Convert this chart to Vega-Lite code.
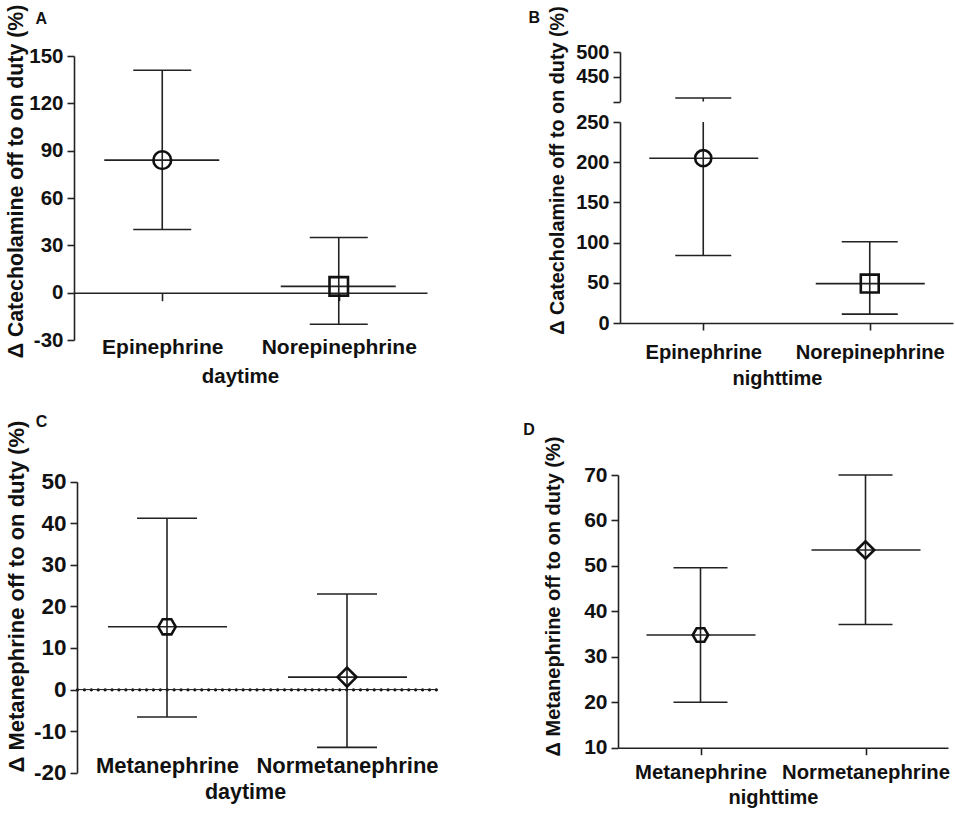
{
  "$schema": "https://vega.github.io/schema/vega-lite/v6.json",
  "width": 955,
  "height": 814,
  "autosize": "none",
  "padding": 0,
  "background": "white",
  "config": {
    "view": {"stroke": null},
    "font": "Liberation Sans",
    "rule": {"color": "#222", "strokeWidth": 1.6},
    "point": {"filled": false, "strokeWidth": 2.6, "color": "#111", "opacity": 1},
    "text": {"fontSize": 16, "fontWeight": "bold", "font": "Liberation Sans", "color": "#111", "baseline": "middle", "align": "center"},
    "axis": {
      "grid": false,
      "labelFont": "Liberation Sans",
      "labelFontWeight": "bold",
      "labelFontSize": 20,
      "labelColor": "#111",
      "labelOverlap": false,
      "labelFlush": false,
      "labelBound": false,
      "labelLimit": 400,
      "labelAngle": 0,
      "titleFont": "Liberation Sans",
      "titleFontWeight": "bold",
      "titleFontSize": 20.5,
      "titleColor": "#111",
      "titleLimit": 600,
      "domainColor": "#222",
      "domainWidth": 1.6,
      "tickColor": "#222",
      "tickWidth": 1.6,
      "tickSize": 7
    },
    "axisY": {"labelExpr": "'' + datum.value"}
  },
  "datasets": {
    "A": [
      {"cat": "Epinephrine", "mean": 84, "lower": 40, "upper": 141},
      {"cat": "Norepinephrine", "mean": 4, "lower": -20, "upper": 35}
    ],
    "B": [
      {"cat": "Epinephrine", "mean": 205, "lower": 84, "upper": 407},
      {"cat": "Norepinephrine", "mean": 49, "lower": 11, "upper": 101}
    ],
    "C": [
      {"cat": "Metanephrine", "mean": 15.1, "lower": -6.6, "upper": 41.2},
      {"cat": "Normetanephrine", "mean": 3, "lower": -13.9, "upper": 23}
    ],
    "D": [
      {"cat": "Metanephrine", "mean": 34.8, "lower": 20, "upper": 49.6},
      {"cat": "Normetanephrine", "mean": 53.5, "lower": 37.1, "upper": 70}
    ]
  },
  "layer": [
    {
      "data": {"name": "A"},
      "layer": [
        {
          "mark": {"type": "rule"},
          "encoding": {
            "x": {"field": "cat", "type": "nominal",
              "scale": {"type": "point", "domain": ["Epinephrine", "Norepinephrine"], "range": [74, 427], "padding": 0.5},
              "axis": {"orient": "bottom", "offset": -521.3, "title": "daytime", "titleX": 240, "labelPadding": 36, "tickSize": 8, "titlePadding": 9, "labelFontSize": 21, "titleFontSize": 20.5}},
            "y": {"field": "lower", "type": "quantitative",
              "scale": {"domain": [-30, 150], "range": [340, 56], "nice": false, "zero": false},
              "axis": {"orient": "left", "offset": -74, "values": [-30, 0, 30, 60, 90, 120, 150], "title": "Δ Catecholamine off to on duty (%)", "titleY": 181, "titlePadding": 2, "labelPadding": 4, "labelFontSize": 20.5, "titleFontSize": 21.3}},
            "y2": {"field": "upper"}
          }
        },
        {
          "mark": {"type": "rule", "xOffset": -29, "x2Offset": 29},
          "encoding": {"x": {"field": "cat", "type": "nominal"}, "x2": {"field": "cat"}, "y": {"field": "upper", "type": "quantitative"}}
        },
        {
          "mark": {"type": "rule", "xOffset": -29, "x2Offset": 29},
          "encoding": {"x": {"field": "cat", "type": "nominal"}, "x2": {"field": "cat"}, "y": {"field": "lower", "type": "quantitative"}}
        },
        {
          "mark": {"type": "rule", "xOffset": -58, "x2Offset": 57},
          "encoding": {"x": {"field": "cat", "type": "nominal"}, "x2": {"field": "cat"}, "y": {"field": "mean", "type": "quantitative"}}
        },
        {
          "mark": {"type": "point"},
          "encoding": {
            "x": {"field": "cat", "type": "nominal"},
            "y": {"field": "mean", "type": "quantitative"},
            "shape": {"field": "cat", "type": "nominal", "scale": {"domain": ["Epinephrine", "Norepinephrine"], "range": ["circle", "square"]}, "legend": null},
            "size": {"field": "cat", "type": "nominal", "scale": {"domain": ["Epinephrine", "Norepinephrine"], "range": [314, 342]}, "legend": null}
          }
        },
        {
          "data": {"values": [{"letter": "A"}]},
          "mark": {"type": "text", "dx": -121},
          "encoding": {"x": {"datum": "Epinephrine", "type": "nominal"}, "y": {"datum": 173.4, "type": "quantitative"}, "text": {"field": "letter"}}
        }
      ]
    },
    {
      "data": {"name": "B"},
      "layer": [
        {
          "mark": {"type": "rule"},
          "encoding": {
            "x": {"field": "cat", "type": "nominal",
              "scale": {"type": "point", "domain": ["Epinephrine", "Norepinephrine"], "range": [620, 953], "padding": 0.5},
              "axis": {"orient": "bottom", "offset": -491, "title": "nighttime", "titleX": 777, "labelPadding": 12, "tickSize": 7, "titlePadding": 6, "labelFontSize": 20.2, "titleFontSize": 20}},
            "y": {"field": "lower", "type": "quantitative",
              "scale": {"domain": [0, 250], "range": [323, 122], "nice": false, "zero": false, "clamp": true},
              "axis": {"orient": "left", "offset": -620, "values": [0, 50, 100, 150, 200, 250], "title": "Δ Catecholamine off to on duty (%)", "titleY": 170, "titlePadding": 8, "labelPadding": 4, "labelFontSize": 20, "titleFontSize": 19.8}},
            "y2": {"field": "upper"}
          }
        },
        {
          "transform": [{"filter": "datum.upper <= 250"}],
          "mark": {"type": "rule", "xOffset": -28, "x2Offset": 28},
          "encoding": {"x": {"field": "cat", "type": "nominal"}, "x2": {"field": "cat"}, "y": {"field": "upper", "type": "quantitative"}}
        },
        {
          "mark": {"type": "rule", "xOffset": -28, "x2Offset": 28},
          "encoding": {"x": {"field": "cat", "type": "nominal"}, "x2": {"field": "cat"}, "y": {"field": "lower", "type": "quantitative"}}
        },
        {
          "mark": {"type": "rule", "xOffset": -54, "x2Offset": 55},
          "encoding": {"x": {"field": "cat", "type": "nominal"}, "x2": {"field": "cat"}, "y": {"field": "mean", "type": "quantitative"}}
        },
        {
          "mark": {"type": "point"},
          "encoding": {
            "x": {"field": "cat", "type": "nominal"},
            "y": {"field": "mean", "type": "quantitative"},
            "shape": {"field": "cat", "type": "nominal", "scale": {"domain": ["Epinephrine", "Norepinephrine"], "range": ["circle", "square"]}, "legend": null},
            "size": {"field": "cat", "type": "nominal", "scale": {"domain": ["Epinephrine", "Norepinephrine"], "range": [260, 320]}, "legend": null}
          }
        }
      ]
    },
    {
      "data": {"name": "B"},
      "layer": [
        {
          "transform": [{"filter": "datum.upper > 250"}],
          "mark": {"type": "rule"},
          "encoding": {
            "x": {"field": "cat", "type": "nominal",
              "scale": {"type": "point", "domain": ["Epinephrine", "Norepinephrine"], "range": [620, 953], "padding": 0.5},
              "axis": null},
            "y": {"field": "upper", "type": "quantitative",
              "scale": {"domain": [400, 500], "range": [101.5, 52], "nice": false, "zero": false},
              "axis": {"orient": "left", "offset": -620, "values": [400, 450, 500], "labelExpr": "datum.value == 400 ? '' : datum.label", "title": null, "labelPadding": 4, "labelFontSize": 20}},
            "y2": {"datum": 400}
          }
        },
        {
          "transform": [{"filter": "datum.upper > 250"}],
          "mark": {"type": "rule", "xOffset": -28, "x2Offset": 28},
          "encoding": {"x": {"field": "cat", "type": "nominal"}, "x2": {"field": "cat"}, "y": {"field": "upper", "type": "quantitative"}}
        },
        {
          "data": {"values": [{"letter": "B"}]},
          "mark": {"type": "text", "dx": -169},
          "encoding": {"x": {"datum": "Epinephrine", "type": "nominal"}, "y": {"datum": 567.7, "type": "quantitative"}, "text": {"field": "letter"}}
        }
      ]
    },
    {
      "data": {"name": "C"},
      "layer": [
        {
          "mark": {"type": "rule"},
          "encoding": {
            "x": {"field": "cat", "type": "nominal",
              "scale": {"type": "point", "domain": ["Metanephrine", "Normetanephrine"], "range": [77, 437], "padding": 0.5},
              "axis": {"orient": "bottom", "offset": -124.7, "title": "daytime", "titleX": 245, "ticks": false, "tickSize": 0, "labelPadding": 66, "titlePadding": 5, "labelFontSize": 22, "titleFontSize": 21.5, "domainDash": [0.1, 6.8], "domainWidth": 3.2, "domainCap": "round", "domainColor": "#111"}},
            "y": {"field": "lower", "type": "quantitative",
              "scale": {"domain": [-20, 50], "range": [772.7, 481.7], "nice": false, "zero": false},
              "axis": {"orient": "left", "offset": -77, "values": [-20, -10, 0, 10, 20, 30, 40, 50], "title": "Δ Metanephrine off to on duty (%)", "titleY": 596, "titlePadding": 5, "labelPadding": 4, "labelFontSize": 22.5, "titleFontSize": 22}},
            "y2": {"field": "upper"}
          }
        },
        {
          "mark": {"type": "rule", "strokeWidth": 0.9, "xOffset": -90, "x2Offset": 90},
          "encoding": {"x": {"datum": "Metanephrine", "type": "nominal"}, "x2": {"datum": "Normetanephrine"}, "y": {"datum": 0, "type": "quantitative"}}
        },
        {
          "mark": {"type": "rule", "xOffset": -30, "x2Offset": 30},
          "encoding": {"x": {"field": "cat", "type": "nominal"}, "x2": {"field": "cat"}, "y": {"field": "upper", "type": "quantitative"}}
        },
        {
          "mark": {"type": "rule", "xOffset": -30, "x2Offset": 30},
          "encoding": {"x": {"field": "cat", "type": "nominal"}, "x2": {"field": "cat"}, "y": {"field": "lower", "type": "quantitative"}}
        },
        {
          "mark": {"type": "rule", "xOffset": -59, "x2Offset": 60},
          "encoding": {"x": {"field": "cat", "type": "nominal"}, "x2": {"field": "cat"}, "y": {"field": "mean", "type": "quantitative"}}
        },
        {
          "mark": {"type": "point"},
          "encoding": {
            "x": {"field": "cat", "type": "nominal"},
            "y": {"field": "mean", "type": "quantitative"},
            "shape": {"field": "cat", "type": "nominal", "scale": {"domain": ["Metanephrine", "Normetanephrine"], "range": ["M-1,0L-0.5,-0.866L0.5,-0.866L1,0L0.5,0.866L-0.5,0.866Z", "diamond"]}, "legend": null},
            "size": {"field": "cat", "type": "nominal", "scale": {"domain": ["Metanephrine", "Normetanephrine"], "range": [306, 361]}, "legend": null}
          }
        },
        {
          "data": {"values": [{"letter": "C"}]},
          "mark": {"type": "text", "dx": -125.5},
          "encoding": {"x": {"datum": "Metanephrine", "type": "nominal"}, "y": {"datum": 64.4, "type": "quantitative"}, "text": {"field": "letter"}}
        }
      ]
    },
    {
      "data": {"name": "D"},
      "layer": [
        {
          "mark": {"type": "rule"},
          "encoding": {
            "x": {"field": "cat", "type": "nominal",
              "scale": {"type": "point", "domain": ["Metanephrine", "Normetanephrine"], "range": [618, 948], "padding": 0.5},
              "axis": {"orient": "bottom", "offset": -66.3, "title": "nighttime", "titleX": 773, "labelPadding": 8, "tickSize": 7, "titlePadding": 4, "labelFontSize": 20.3, "titleFontSize": 20}},
            "y": {"field": "lower", "type": "quantitative",
              "scale": {"domain": [10, 70], "range": [747.7, 475], "nice": false, "zero": false},
              "axis": {"orient": "left", "offset": -618, "values": [10, 20, 30, 40, 50, 60, 70], "title": "Δ Metanephrine off to on duty (%)", "titleY": 596, "titlePadding": 20, "labelPadding": 4, "labelFontSize": 21, "titleFontSize": 20}},
            "y2": {"field": "upper"}
          }
        },
        {
          "mark": {"type": "rule", "xOffset": -27, "x2Offset": 27},
          "encoding": {"x": {"field": "cat", "type": "nominal"}, "x2": {"field": "cat"}, "y": {"field": "upper", "type": "quantitative"}}
        },
        {
          "mark": {"type": "rule", "xOffset": -27, "x2Offset": 27},
          "encoding": {"x": {"field": "cat", "type": "nominal"}, "x2": {"field": "cat"}, "y": {"field": "lower", "type": "quantitative"}}
        },
        {
          "mark": {"type": "rule", "xOffset": -54, "x2Offset": 55},
          "encoding": {"x": {"field": "cat", "type": "nominal"}, "x2": {"field": "cat"}, "y": {"field": "mean", "type": "quantitative"}}
        },
        {
          "mark": {"type": "point"},
          "encoding": {
            "x": {"field": "cat", "type": "nominal"},
            "y": {"field": "mean", "type": "quantitative"},
            "shape": {"field": "cat", "type": "nominal", "scale": {"domain": ["Metanephrine", "Normetanephrine"], "range": ["M-1,0L-0.5,-0.866L0.5,-0.866L1,0L0.5,0.866L-0.5,0.866Z", "diamond"]}, "legend": null},
            "size": {"field": "cat", "type": "nominal", "scale": {"domain": ["Metanephrine", "Normetanephrine"], "range": [240, 306]}, "legend": null}
          }
        },
        {
          "data": {"values": [{"letter": "D"}]},
          "mark": {"type": "text", "dx": -171.5},
          "encoding": {"x": {"datum": "Metanephrine", "type": "nominal"}, "y": {"datum": 79.8, "type": "quantitative"}, "text": {"field": "letter"}}
        }
      ]
    }
  ],
  "resolve": {
    "scale": {"x": "independent", "y": "independent", "shape": "independent", "size": "independent"},
    "axis": {"x": "independent", "y": "independent"}
  }
}
